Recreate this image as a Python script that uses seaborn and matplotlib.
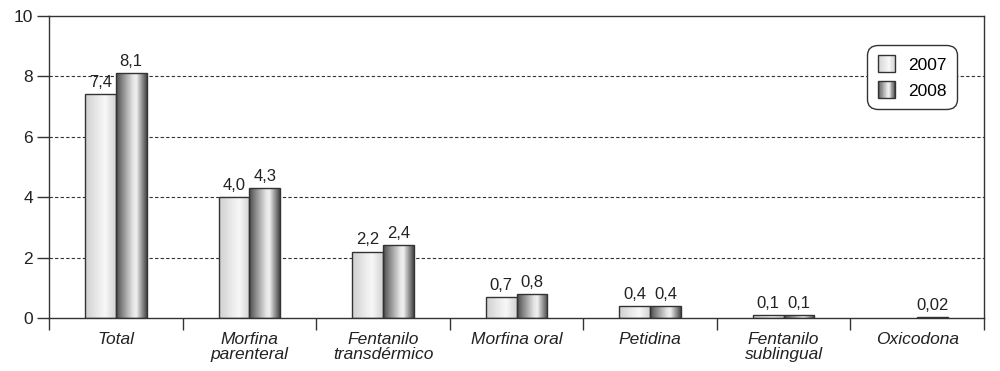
import numpy as np
import pandas as pd
import matplotlib
matplotlib.use('Agg')
import matplotlib.pyplot as plt
import seaborn as sns
from matplotlib.colors import LinearSegmentedColormap
from matplotlib.patches import Rectangle, Patch
from matplotlib.legend_handler import HandlerBase

categorias = ['Total', 'Morfina\nparenteral', 'Fentanilo\ntransdérmico', 'Morfina oral',
              'Petidina', 'Fentanilo\nsublingual', 'Oxicodona']
anos = ['2007', '2008']
v2007 = [7.4, 4.0, 2.2, 0.7, 0.4, 0.1, np.nan]
v2008 = [8.1, 4.3, 2.4, 0.8, 0.4, 0.1, 0.02]

df = pd.DataFrame({
    'Fármaco': categorias * 2,
    'Año': [anos[0]] * len(categorias) + [anos[1]] * len(categorias),
    'Valor': v2007 + v2008,
})

cinza = '#333333'
grad_2007 = LinearSegmentedColormap.from_list('g07', [(0, '#cfcfcf'), (0.35, '#e6e6e6'),
                                                      (0.65, '#f8f8f8'), (1, '#d2d2d2')])
grad_2008 = LinearSegmentedColormap.from_list('g08', [(0, '#4a4a4a'), (0.2, '#858585'),
                                                      (0.55, '#e4e4e4'), (0.66, '#f0f0f0'),
                                                      (0.85, '#8e8e8e'), (1, '#454545')])
gradientes = {'2007': grad_2007, '2008': grad_2008}

plt.rcParams['font.family'] = ['Liberation Sans', 'DejaVu Sans']

fig = plt.figure(figsize=(10, 3.71), dpi=100)
ax = fig.add_axes([0.049, 0.143, 0.935, 0.814])

sns.barplot(data=df, x='Fármaco', y='Valor', hue='Año', order=categorias, hue_order=anos,
            palette=['#e8e8e8', '#9a9a9a'], width=0.46, edgecolor=cinza, linewidth=1,
            legend=False, ax=ax)

ax.set_xlim(-0.5, len(categorias) - 0.5)
ax.set_ylim(0, 10)

# preenchimento em degradê (efeito cilindro)
faixa = np.linspace(0, 1, 256).reshape(1, -1)
for ano, cont in zip(anos, ax.containers):
    for bar in cont:
        h = bar.get_height()
        if np.isnan(h) or h == 0:
            continue
        x0 = bar.get_x()
        w = bar.get_width()
        img = ax.imshow(faixa, cmap=gradientes[ano], extent=[x0, x0 + w, 0, h],
                        aspect='auto', zorder=2.5, interpolation='bilinear')
        img.set_clip_path(bar)
        bar.set_facecolor('none')
        bar.set_zorder(3)
        txt = f'{h:.2f}' if h < 0.1 else f'{h:.1f}'
        ax.annotate(txt.replace('.', ','), (x0 + w / 2, h), xytext=(0, 3),
                    textcoords='offset points', ha='center', va='bottom',
                    fontsize=12, color='#222222')

ax.set_xlim(-0.5, len(categorias) - 0.5)
ax.set_ylim(0, 10)

# eixos e grade
ax.set_xticks(np.arange(len(categorias) + 1) - 0.5)
ax.set_xticklabels([])
ax.set_xticks(np.arange(len(categorias)), minor=True)
ax.set_xticklabels(categorias, minor=True, fontstyle='italic', fontsize=12.5, color='#222222',
                   linespacing=1.05)
ax.tick_params(axis='x', which='major', direction='out', length=8.5, width=1, color=cinza)
ax.tick_params(axis='x', which='minor', length=0, pad=10)
ax.set_yticks(range(0, 11, 2))
ax.tick_params(axis='y', direction='out', length=8.6, width=1, color=cinza, labelsize=12.5,
               labelcolor='#222222', pad=3)
ax.set_xlabel('')
ax.set_ylabel('')
for s in ax.spines.values():
    s.set_color(cinza)
    s.set_linewidth(1)
for yv in [2, 4, 6, 8]:
    ax.axhline(yv, color=cinza, lw=0.8, ls=(0, (3, 2)), zorder=1)


class HandlerDegrade(HandlerBase):
    def __init__(self, cmap):
        super().__init__()
        self.cmap = cmap

    def create_artists(self, legend, orig_handle, xdescent, ydescent, width, height,
                       fontsize, trans):
        n = 24
        arts = []
        for i in range(n):
            arts.append(Rectangle((-xdescent + width * i / n, -ydescent), width / n, height,
                                  facecolor=self.cmap((i + 0.5) / n), edgecolor='none',
                                  transform=trans))
        arts.append(Rectangle((-xdescent, -ydescent), width, height, fill=False,
                              edgecolor=cinza, lw=1, transform=trans))
        return arts


handles = [Patch(label=a) for a in anos]
leg = ax.legend(handles=handles, labels=anos,
                handler_map={handles[0]: HandlerDegrade(grad_2007), handles[1]: HandlerDegrade(grad_2008)},
                loc='upper right', bbox_to_anchor=(0.971, 0.904), borderaxespad=0, fontsize=12.5,
                handlelength=1.0, handleheight=1.1, handletextpad=0.75, labelspacing=0.5,
                borderpad=0.6, fancybox=True, framealpha=1, edgecolor=cinza)
leg.get_frame().set_linewidth(1)
leg.get_frame().set_boxstyle('round,pad=0,rounding_size=0.6')
leg.set_zorder(5)

plt.savefig('out.png', dpi=100)
